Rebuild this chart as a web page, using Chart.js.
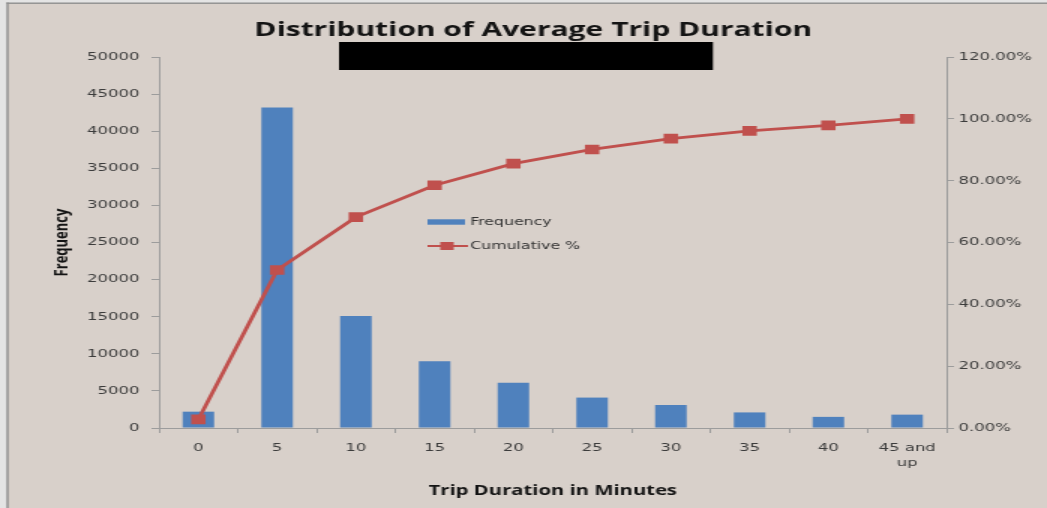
<!DOCTYPE html>
<html><head><meta charset="utf-8">
<script src="https://cdn.jsdelivr.net/npm/chart.js@4.4.1/dist/chart.umd.min.js"></script>
<style>
html,body{margin:0;padding:0;background:#e6e6e6;overflow:hidden}
#wrap{width:1047px;height:508px;overflow:hidden;position:relative}
#c{position:absolute;left:0;top:0;transform:scaleX(1.5);transform-origin:0 0}
</style></head><body>
<div id="wrap"><canvas id="c" width="698" height="508"></canvas></div>
<script>
// ---- data ----
const categories = ['0', '5', '10', '15', '20', '25', '30', '35', '40', ['45 and', 'up']];
const frequency = [2200, 43200, 15100, 9000, 6100, 4100, 3100, 2100, 1500, 1800];
const cumulativePct = [2.8, 51.1, 68.2, 78.5, 85.5, 90.1, 93.6, 96.1, 97.9, 100.0];
const frequencyTicks = [0, 5000, 10000, 15000, 20000, 25000, 30000, 35000, 40000, 45000, 50000];
const percentTicks = [0, 20, 40, 60, 80, 100, 120];

// ---- style ----
const BG = '#d8d0ca';
const AXIS = '#9c9c9c';
const TICK_TXT = '#3c3c3c';
const BLUE = '#4f81bd';
const RED = '#c0504d';
const tickFont = {family: '"DejaVu Sans", Verdana, sans-serif', size: 11, lineHeight: 1.35};
const boldFont = (s) => ({family: '"Open Sans", Lato, sans-serif', size: s, weight: 'bold'});

const bgPlugin = {
  id: 'bg',
  beforeDraw(chart) {
    const ctx = chart.ctx, w = chart.width, h = chart.height;
    ctx.save();
    ctx.fillStyle = '#e4e4e4';
    ctx.fillRect(0, 0, w, h);
    ctx.fillStyle = BG;
    ctx.fillRect(5, 3, w - 5, h - 3);
    ctx.fillStyle = '#8e8e8e';
    ctx.fillRect(4.3, 2.5, 1.4, h);
    ctx.fillRect(4.3, 2.5, w, 1.4);
    ctx.restore();
  }
};

const legendPlugin = {
  id: 'excelLegend',
  afterDraw(chart) {
    const ctx = chart.ctx;
    const ds = chart.data.datasets;
    ctx.save();
    ctx.font = '10.5px "DejaVu Sans", Verdana, sans-serif';
    ctx.textBaseline = 'middle';
    ctx.textAlign = 'left';
    // bar entry
    ctx.fillStyle = ds[0].backgroundColor;
    ctx.fillRect(285, 219.3, 25, 5.4);
    ctx.fillStyle = '#333333';
    ctx.fillText(ds[0].label, 313.5, 222);
    // line entry
    ctx.strokeStyle = ds[1].borderColor;
    ctx.lineWidth = 2;
    ctx.beginPath();
    ctx.moveTo(285, 246);
    ctx.lineTo(312, 246);
    ctx.stroke();
    ctx.fillStyle = ds[1].pointBackgroundColor;
    ctx.fillRect(298 - 4.5, 246 - 4, 9, 8);
    ctx.fillStyle = '#333333';
    ctx.fillText(ds[1].label, 313.5, 246);
    // redaction block present in the reference
    ctx.fillStyle = '#000000';
    ctx.fillRect(226, 42, 249.3, 28);
    ctx.restore();
  }
};

new Chart(document.getElementById('c'), {
  data: {
    labels: categories,
    datasets: [
      {
        type: 'bar', label: 'Frequency', data: frequency, yAxisID: 'y',
        backgroundColor: BLUE, borderWidth: 0,
        barPercentage: 0.4, categoryPercentage: 1.0, order: 2
      },
      {
        type: 'line', label: 'Cumulative %', data: cumulativePct, yAxisID: 'y1',
        borderColor: RED, borderWidth: 2.8, tension: 0,
        pointStyle: 'rect', pointRadius: 6.8, pointBackgroundColor: RED,
        pointBorderColor: RED, pointBorderWidth: 0, order: 1
      }
    ]
  },
  options: {
    responsive: false,
    animation: false,
    devicePixelRatio: 1,
    layout: {padding: {left: 13, right: 0, top: 0, bottom: 0}},
    plugins: {
      legend: {display: false},
      tooltip: {enabled: false},
      title: {
        display: true,
        text: 'Distribution of Average Trip Duration',
        font: boldFont(20),
        color: '#141414',
        padding: {top: 18.5, bottom: 14.5}
      }
    },
    scales: {
      x: {
        type: 'category',
        offset: true,
        grid: {offset: true, drawOnChartArea: false, drawTicks: true, tickLength: 5, color: AXIS},
        border: {display: true, color: AXIS, width: 1},
        ticks: {font: tickFont, color: TICK_TXT, padding: 8, maxRotation: 0, autoSkip: false},
        title: {display: true, text: 'Trip Duration in Minutes', font: boldFont(13.5), color: '#141414', padding: {top: 0, bottom: 9}},
        afterFit: (s) => { s.height = 80; }
      },
      y: {
        type: 'linear', position: 'left', min: 0, max: 50000,
        afterBuildTicks: (s) => { s.ticks = frequencyTicks.map(v => ({value: v})); },
        grid: {drawOnChartArea: false, drawTicks: true, tickLength: 5, color: AXIS},
        border: {display: true, color: AXIS, width: 1},
        ticks: {font: tickFont, color: TICK_TXT, padding: 8, callback: (v) => String(v)},
        title: {display: true, text: 'Frequency', font: boldFont(13), color: '#141414', padding: {top: 20.5, bottom: 0}},
        afterFit: (s) => { s.width = 93; }
      },
      y1: {
        type: 'linear', position: 'right', min: 0, max: 120,
        afterBuildTicks: (s) => { s.ticks = percentTicks.map(v => ({value: v})); },
        grid: {drawOnChartArea: false, drawTicks: true, tickLength: 5, color: AXIS},
        border: {display: true, color: AXIS, width: 1},
        ticks: {font: tickFont, color: TICK_TXT, padding: 3, callback: (v) => Number(v).toFixed(2) + '%'},
        afterFit: (s) => { s.width = 67; }
      }
    }
  },
  plugins: [bgPlugin, legendPlugin]
});
</script>
</body></html>
